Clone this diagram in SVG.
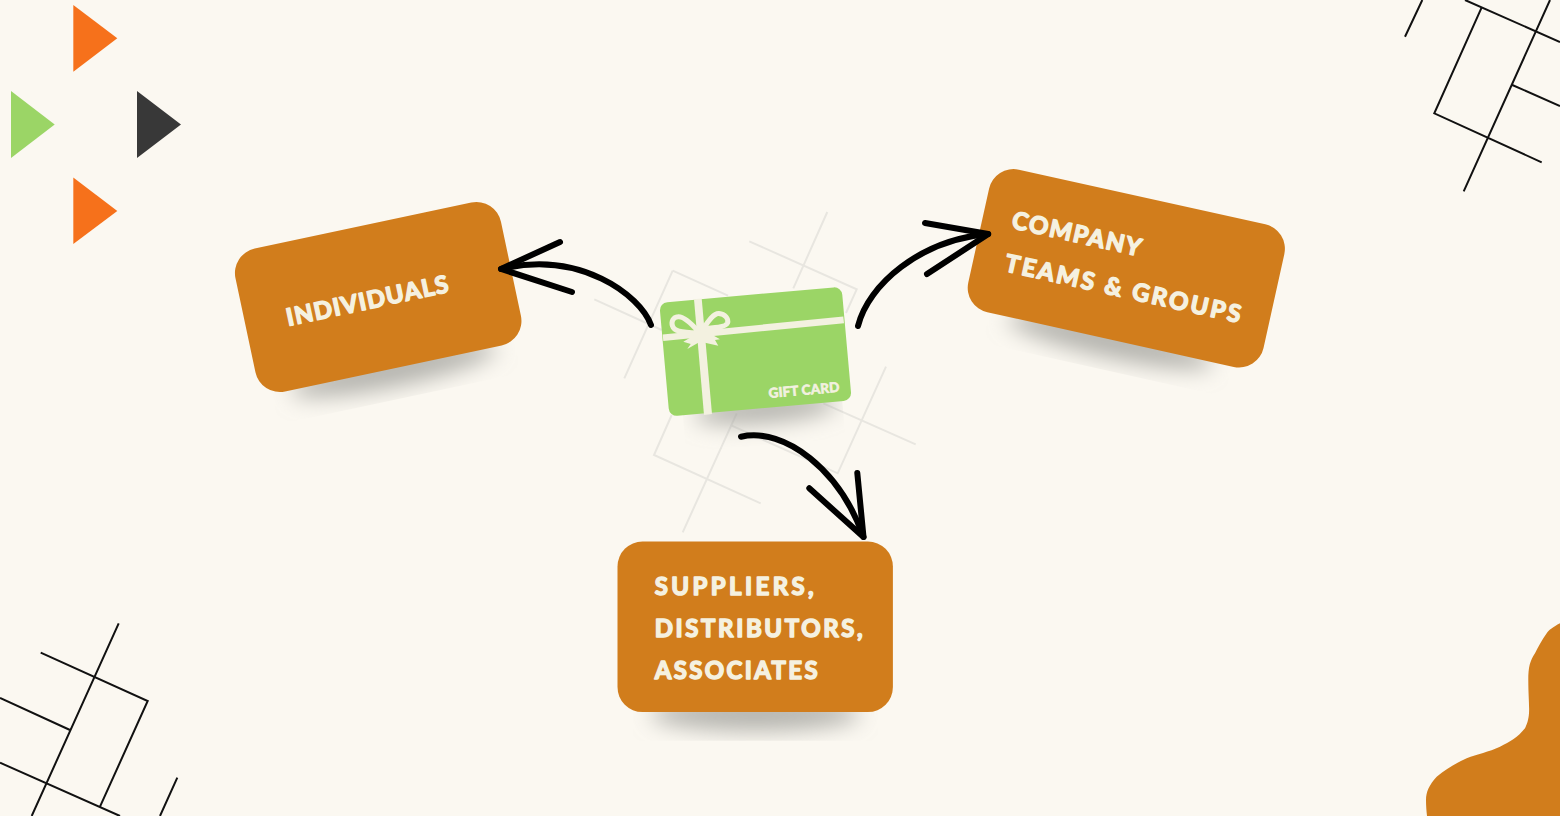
<svg xmlns="http://www.w3.org/2000/svg" width="1560" height="816" viewBox="0 0 1560 816">
<style>
.bg{fill:#fbf8f1}
.ln{fill:none;stroke:#111;stroke-width:2;stroke-linecap:butt;stroke-linejoin:miter}
.gl{fill:none;stroke:#e8e6e0;stroke-width:2}
.card{fill:#d17d1c}
.lbl{font-family:"Lato","Liberation Sans",sans-serif;font-weight:700;font-size:24px;fill:#f5f1e0;stroke:#f5f1e0;stroke-width:1.5px;stroke-linejoin:round}
.arr{fill:none;stroke:#000;stroke-width:6;stroke-linecap:round;stroke-linejoin:round}
.sh{fill:#a3a39d;fill-opacity:.8;filter:url(#blur)}
.rib{fill:#f3f1e0}
.bow{fill:none;stroke:#f3f1e0;stroke-width:5;stroke-linecap:round}
</style>
<defs>
<filter id="blur" x="-30%" y="-200%" width="160%" height="500%"><feGaussianBlur stdDeviation="11"/></filter>
<clipPath id="clipN"><rect x="-124" y="50" width="248" height="54"/></clipPath>
<clipPath id="clipS"><rect x="-122" y="60" width="245" height="54"/></clipPath>
<clipPath id="clipG"><rect x="-78" y="40" width="160" height="54"/></clipPath>
</defs>
<rect class="bg" width="1560" height="816"/>
<g id="triangles">
<polygon points="73.3,5 117.3,38.3 73.3,71.7" fill="#f6711b"/>
<polygon points="11,91 54.7,124.5 11,158" fill="#9bd566"/>
<polygon points="137,91 181,124.5 137,158" fill="#383838"/>
<polygon points="73.3,177.5 117.3,211 73.3,244" fill="#f6711b"/>
</g>
<g id="corner-top-right">
<path class="ln" d="M1405,36.7L1422.3,0M1465,0L1560,42M1481.7,7.3L1434.3,113.3L1541.7,162.3M1550,0L1463.7,191.3M1512.3,85L1560,106"/>
</g>
<g id="corner-bottom-left">
<path class="ln" d="M118.7,623.3L31.7,816M40.7,652.7L147.7,701L100,806.7M0,698L70,730M0,762.7L120,816M177.3,777.7L160,816"/>
</g>
<path id="blob" class="card" d="M1560,623.3C1553,627 1549,630 1546.7,633.3C1542,640 1538,647 1535,653.3C1530,661 1528.3,667 1528.3,680C1528.3,695 1529.5,705 1529,713.3C1528.5,720 1527,724 1525,728.3C1518,737 1510,742 1500,746.7C1489,752 1477,754 1466.7,758.3C1456,763 1446,769 1436.7,776.7C1429,785 1426,792 1426,800C1426,806 1426.5,811 1427,816L1560,816Z"/>
<g id="grid-center">
<path class="gl" d="M827.3,212L793.3,288.3M749.3,241.3L856.7,289.3L846,313M594.3,299.3L661.7,330M672.7,270.7L728,295.7M672.7,270.7L624.3,378.3M886,366.7L837.7,473.3L731.7,425.7M823.3,403.3L915.7,444.3M736.7,413.3L682.7,532.3M671.7,415L654,455L760.7,503.3"/>
</g>
<g id="node-individuals" transform="translate(378.2,297) rotate(-12)">
<g clip-path="url(#clipN)"><ellipse class="sh" cx="0" cy="74" rx="105" ry="17"/></g>
<rect class="card" x="-135.7" y="-73" width="271.4" height="146" rx="25"/>
<text class="lbl" transform="rotate(12) translate(-89.9,29) rotate(-12)" textLength="165">INDIVIDUALS</text>
</g>
<g id="node-company" transform="translate(1126.3,268.3) rotate(12.5)">
<g clip-path="url(#clipN)"><ellipse class="sh" cx="0" cy="74" rx="105" ry="17"/></g>
<rect class="card" x="-151.2" y="-73" width="302.4" height="146" rx="25"/>
<text class="lbl" x="-121.5" y="-14.5" textLength="131.5">COMPANY</text>
<text class="lbl" x="-119" y="29" textLength="240.6">TEAMS &amp; GROUPS</text>
</g>
<g id="node-suppliers" transform="translate(755.2,626.8)">
<g clip-path="url(#clipS)"><ellipse class="sh" cx="0" cy="87" rx="105" ry="17"/></g>
<rect class="card" x="-137.7" y="-85.3" width="275.4" height="170.6" rx="25"/>
<text class="lbl" x="-100.5" y="-31.5" textLength="159">SUPPLIERS,</text>
<text class="lbl" x="-100.5" y="10" textLength="208">DISTRIBUTORS,</text>
<text class="lbl" x="-100.5" y="52.5" textLength="163">ASSOCIATES</text>
</g>
<g id="node-gift-card">
<g transform="translate(755.5,351.6) rotate(-5.1)">
<g clip-path="url(#clipG)"><ellipse class="sh" cx="5" cy="58" rx="72" ry="14"/></g>
<rect x="-91.5" y="-57" width="183" height="114" rx="8" fill="#9bd566"/>
</g>
<polygon class="rib" points="694,299.3 701.7,298.6 712,414 704,414.9"/>
<polygon class="rib" points="662.7,334.5 843.3,316.5 844,323.2 663.3,341"/>
<path class="bow" d="M698,331C690,322 683,316 678,316.7C673,317 671,322 672.5,326C674,331 680,332.5 698,333"/>
<path class="bow" d="M703,329C709,320 714,313 719,313.5C725,314 729,319 727.5,323C725.5,327 718,327.5 703,329"/>
<polygon class="rib" points="700,331.7 683.3,341.7 690.7,344 687.3,349 700,341.7 705,342.7 718.3,345.7 715,340 720,339.3 706.7,331.7"/>
<text transform="translate(769,398) rotate(-5.1)" font-family="Lato,'Liberation Sans',sans-serif" font-weight="700" font-size="13.5" fill="#f3f1e0" stroke="#f3f1e0" stroke-width=".7" textLength="71">GIFT CARD</text>
</g>
<g id="connectors">
<path class="arr" d="M651,325C640,295 580,250 501,269"/>
<path class="arr" d="M560,242L501,269L572,292"/>
<path class="arr" d="M858,326C868,285 920,240 988,234"/>
<path class="arr" d="M925,223L988.3,234L927,274"/>
<path class="arr" d="M741,436.7C785,427 840,470 863.5,537"/>
<path class="arr" d="M857.3,473L863.5,537L809.3,488.3"/>
</g>
</svg>
